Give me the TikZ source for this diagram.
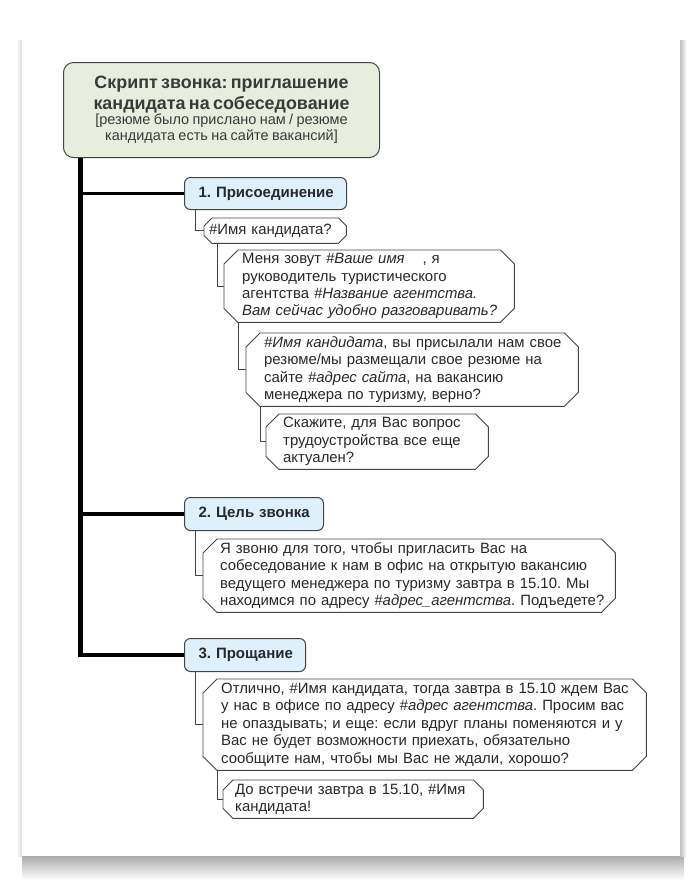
\documentclass[tikz,border=0pt]{standalone}
\usepackage{fontspec}
\setmainfont{Liberation Sans}
\usetikzlibrary{calc}
\frenchspacing
\definecolor{rootfill}{RGB}{232,238,222}
\definecolor{secfill}{RGB}{221,240,251}
\definecolor{edgec}{RGB}{68,68,68}
\definecolor{txtc}{RGB}{40,40,40}
\definecolor{ttlc}{RGB}{58,58,58}
\newcommand\bodyfont{\fontsize{14.9}{17.4}\selectfont}
\newcommand\secfont{\fontsize{15}{17}\selectfont\bfseries}
\newcommand\ttlfont{\fontsize{17.9}{21.5}\selectfont\bfseries}
\newcommand\subtfont{\fontsize{14.5}{16.5}\selectfont}
\newcommand\chamf[2]{\draw[bubline] ([xshift=#2pt]#1.north west) -- ([xshift=-#2pt]#1.north east) -- ([yshift=-#2pt]#1.north east) -- ([yshift=#2pt]#1.south east) -- ([xshift=-#2pt]#1.south east) -- ([xshift=#2pt]#1.south west) -- ([yshift=#2pt]#1.south west) -- ([yshift=-#2pt]#1.north west) -- cycle;}
\begin{document}
\begin{tikzpicture}[x=1pt,y=-1pt,
  rootbox/.style={draw=edgec, line width=1pt, fill=rootfill, rounded corners=10pt, anchor=north west, inner sep=0pt, align=center, text=ttlc},
  secbox/.style={draw=edgec, line width=1pt, fill=secfill, rounded corners=6pt, anchor=north west, inner ysep=0pt, inner xsep=14pt, align=left, font=\secfont, text=txtc},
  bub/.style={anchor=north west, inner ysep=0pt, align=left, font=\bodyfont, text=txtc},
  bubline/.style={draw=edgec, line width=0.9pt, line join=miter},
  conn/.style={draw=edgec, line width=0.9pt},
  trunk/.style={line width=5pt, draw=black},
  branch/.style={line width=3.5pt, draw=black}]
\useasboundingbox (0,0) rectangle (700,884);
% page and its shadow
\shade[top color=black!38, bottom color=white] (22,852) rectangle (684,880);
\shade[left color=black!28, right color=white] (679,40) rectangle (687,856);
\shade[left color=white, right color=black!14] (16,40) rectangle (22,856);
\fill[white] (22,16) rectangle (680,856);

% root
\node[rootbox, minimum width=316pt, minimum height=95pt, text width=306pt] (root) at (63,62)
  {{\ttlfont Скрипт звонка: приглашение\\кандидата на собеседование\par}\vspace{-2pt}{\subtfont [резюме было прислано нам / резюме\\кандидата есть на сайте вакансий]\par}};

% sections
\node[secbox, minimum height=32pt, text width=134pt] (sec1) at (184,177) {\mbox{1. Присоединение}};
\node[secbox, minimum height=33pt, text width=111pt] (sec2) at (184,497) {\mbox{2. Цель звонка}};
\node[secbox, minimum height=33pt, text width=93pt] (sec3) at (184,638) {\mbox{3. Прощание}};

% bubbles
\node[bub, inner xsep=5pt, text width=132pt, minimum height=25pt] (q1) at (204,218) {\mbox{\#Имя кандидата?}};
\chamf{q1}{8}
\node[bub, inner xsep=18pt, text width=254pt, minimum height=72pt] (q2) at (224,250)
  {\mbox{Меня зовут \textit{\#Ваше имя}\hspace{1.2em}, я}\\
   \mbox{руководитель туристического}\\
   \mbox{агентства \textit{\#Название агентства.}}\\
   \mbox{\textit{Вам сейчас удобно разговаривать?}}};
\chamf{q2}{14}
\node[bub, inner xsep=18pt, text width=296pt, minimum height=73pt] (q3) at (246,333)
  {\mbox{\textit{\#Имя кандидата}, вы присылали нам свое}\\
   \mbox{резюме/мы размещали свое резюме на}\\
   \mbox{сайте \textit{\#адрес сайта}, на вакансию}\\
   \mbox{менеджера по туризму, верно?}};
\chamf{q3}{14}
\node[bub, inner xsep=17pt, text width=188pt, minimum height=55pt] (q4) at (266,414)
  {\mbox{Скажите, для Вас вопрос}\\
   \mbox{трудоустройства все еще}\\
   \mbox{актуален?}};
\chamf{q4}{13}
\node[bub, inner xsep=17pt, text width=378pt, minimum height=73pt] (t2) at (203,539)
  {\mbox{Я звоню для того, чтобы пригласить Вас на}\\
   \mbox{собеседование к нам в офис на открытую вакансию}\\
   \mbox{ведущего менеджера по туризму завтра в 15.10. Мы}\\
   \mbox{находимся по адресу \textit{\#адрес\_агентства}. Подъедете?}};
\chamf{t2}{14}
\node[bub, inner xsep=18pt, text width=407pt, minimum height=91pt] (t3) at (203,679)
  {\mbox{Отлично, \#Имя кандидата, тогда завтра в 15.10 ждем Вас}\\
   \mbox{у нас в офисе по адресу \textit{\#адрес агентства}. Просим вас}\\
   \mbox{не опаздывать; и еще: если вдруг планы поменяются и у}\\
   \mbox{Вас не будет возможности приехать, обязательно}\\
   \mbox{сообщите нам, чтобы мы Вас не ждали, хорошо?}};
\chamf{t3}{14}
\node[bub, inner xsep=12pt, text width=236pt, minimum height=38pt] (t4) at (223,780)
  {\mbox{До встречи завтра в 15.10, \#Имя}\\
   \mbox{кандидата!}};
\chamf{t4}{10}

% trunk and branches
\coordinate (tk) at ([xshift=17pt]root.south west);
\draw[trunk] (tk) -- ($(tk |- sec3.west)+(0,1.75)$);
\draw[branch] (tk |- sec1.west) -- (sec1.west);
\draw[branch] (tk |- sec2.west) -- (sec2.west);
\draw[branch] (tk |- sec3.west) -- (sec3.west);

% connectors
\draw[conn] ([xshift=11pt]sec1.south west) |- (q1.west);
\draw[conn] ([xshift=13pt]q1.south west) |- (q2.west);
\draw[conn] ([xshift=14pt]q2.south west) |- (q3.west);
\draw[conn] ([xshift=14pt]q3.south west) |- (q4.west);
\draw[conn] ([xshift=11pt]sec2.south west) |- (t2.west);
\draw[conn] ([xshift=11pt]sec3.south west) |- (t3.west);
\draw[conn] ([xshift=14pt]t3.south west) |- (t4.west);
\end{tikzpicture}
\end{document}
